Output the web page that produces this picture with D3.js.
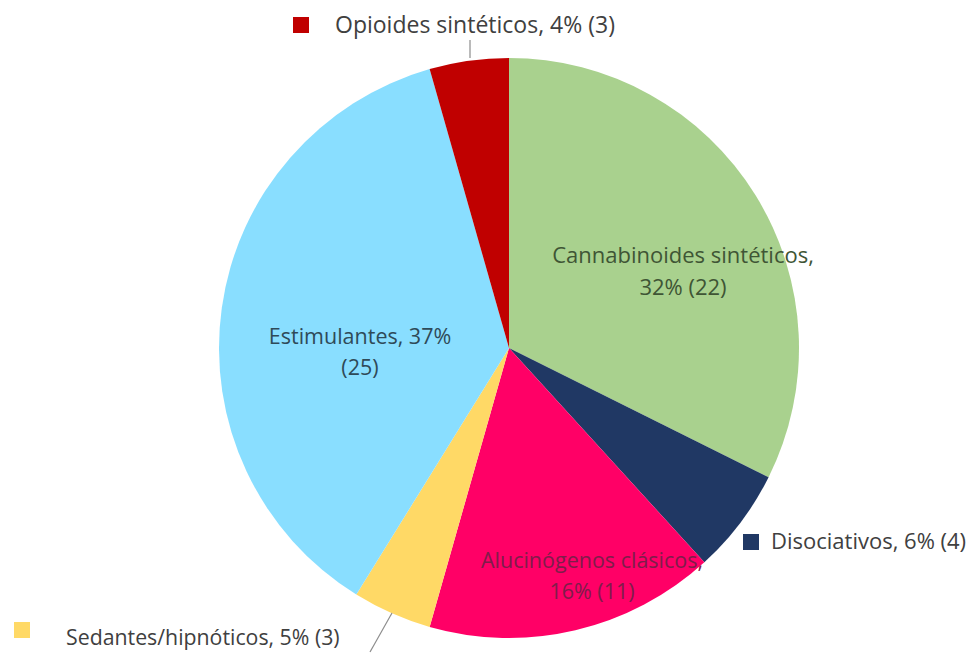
<!DOCTYPE html>
<html>
<head>
<meta charset="utf-8">
<script src="https://cdn.jsdelivr.net/npm/d3@7"></script>
<style>
  body { margin: 0; background: #fff; }
  text { font-family: "Open Sans", sans-serif; }
</style>
</head>
<body>
<div id="chart"></div>
<script>
// data
const categories = ['Cannabinoides sintéticos', 'Disociativos', 'Alucinógenos clásicos',
  'Sedantes/hipnóticos', 'Estimulantes', 'Opioides sintéticos']
const values = [22, 4, 11, 3, 25, 3]
const pctLabels = ['32%', '6%', '16%', '5%', '37%', '4%']
const colors = ['#A9D18E', '#203864', '#FF0066', '#FFD966', '#89DEFF', '#C00000']

const width = 970
const height = 656
const cx = 509
const cy = 348
const radius = 290

const svg = d3.select('#chart')
  .append('svg')
  .attr('width', width)
  .attr('height', height)

const data = categories.map((c, i) => ({ name: c, value: values[i], pct: pctLabels[i], color: colors[i] }))

const pie = d3.pie()
  .value(d => d.value)
  .sort(null)

const arc = d3.arc()
  .innerRadius(0)
  .outerRadius(radius)

const arcs = pie(data)

const g = svg.append('g')
  .attr('transform', `translate(${cx},${cy})`)

g.selectAll('path')
  .data(arcs)
  .enter()
  .append('path')
  .attr('d', arc)
  .attr('fill', d => d.data.color)

// label placement (relative to the centre)
const labelLayout = {
  'Cannabinoides sintéticos': { type: 'in', x: 174, y: -93, size: 22, lines: d => [d.name + ',', d.pct + ' (' + d.value + ')'], fill: '#3f5535' },
  'Estimulantes': { type: 'in', x: -149, y: -12, size: 21.5, lines: d => [d.name + ', ' + d.pct, '(' + d.value + ')'], fill: '#2f4a58' },
  'Alucinógenos clásicos': { type: 'in', x: 83, y: 212, size: 21.5, lines: d => [d.name + ',', d.pct + ' (' + d.value + ')'], fill: '#7e1d4a' },
  'Opioides sintéticos': { type: 'out', x: -174, y: -323, size: 23, key: [-216, -331], line: [[-39, -308], [-39, -290]] },
  'Disociativos': { type: 'out', x: 262, y: 193, size: 22, key: [234, 186] },
  'Sedantes/hipnóticos': { type: 'out', x: -443, y: 290, size: 21.3, key: [-495, 274], line: [[-117, 265], [-139, 304]] }
}

arcs.forEach(a => {
  const d = a.data
  const lay = labelLayout[d.name]
  if (lay.type === 'in') {
    const t = g.append('text')
      .attr('x', lay.x)
      .attr('y', lay.y)
      .attr('text-anchor', 'middle')
      .attr('fill', lay.fill)
      .style('font-size', lay.size + 'px')
    lay.lines(d).forEach((ln, i) => {
      t.append('tspan')
        .attr('x', lay.x)
        .attr('dy', i === 0 ? '0.35em' : '1.45em')
        .text(ln)
    })
  } else {
    if (lay.line) {
      g.append('line')
        .attr('x1', lay.line[0][0]).attr('y1', lay.line[0][1])
        .attr('x2', lay.line[1][0]).attr('y2', lay.line[1][1])
        .attr('stroke', '#8c8c8c')
        .attr('stroke-width', 1.2)
    }
    g.append('rect')
      .attr('x', lay.key[0])
      .attr('y', lay.key[1])
      .attr('width', 16)
      .attr('height', 16)
      .attr('fill', d.color)
    g.append('text')
      .attr('x', lay.x)
      .attr('y', lay.y)
      .attr('dy', '0.35em')
      .attr('fill', '#404040')
      .style('font-size', lay.size + 'px')
      .text(d.name + ', ' + d.pct + ' (' + d.value + ')')
  }
})
</script>
</body>
</html>
